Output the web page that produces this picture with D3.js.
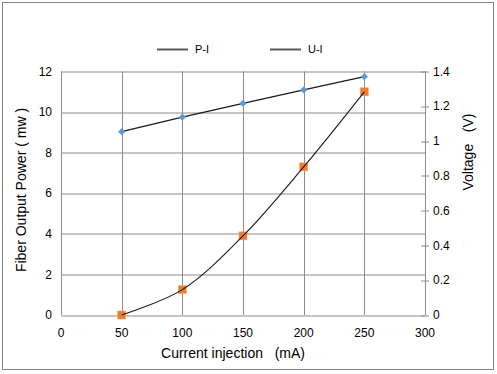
<!DOCTYPE html>
<html>
<head>
<meta charset="utf-8">
<script src="https://cdn.jsdelivr.net/npm/d3@7"></script>
<style>
  body { margin: 0; background: #fff; }
  text { font-family: "Liberation Sans", Arial, sans-serif; fill: #000; white-space: pre; }
</style>
</head>
<body>
<div id="chart"></div>
<script>
// current injection (mA)
const current = [50, 100, 150, 200, 250];
// P-I : fiber output power (mW), left axis
const power = [0, 1.25, 3.9, 7.3, 11.0];
// U-I : voltage (V), right axis
const voltage = [1.054, 1.138, 1.217, 1.294, 1.370];

const xTicks = [0, 50, 100, 150, 200, 250, 300];
const yTicks = [0, 2, 4, 6, 8, 10, 12];
const y2Ticks = [0, 0.2, 0.4, 0.6, 0.8, 1, 1.2, 1.4];
const seriesNames = ["P-I", "U-I"];

const W = 497, H = 374;
const margin = {top: 71.5, right: 72, bottom: 59, left: 61},
    width = W - margin.left - margin.right,
    height = H - margin.top - margin.bottom;

const svg = d3.select("#chart")
  .append("svg")
    .attr("width", W)
    .attr("height", H);

// outer frame
svg.append("rect")
  .attr("x", 2.5).attr("y", 2.5)
  .attr("width", 491).attr("height", 367)
  .attr("fill", "white")
  .attr("stroke", "#868686");

const g = svg.append("g")
  .attr("transform", `translate(${margin.left}, ${margin.top})`);

const x = d3.scaleLinear().domain([0, 300]).range([0, width]);
const y = d3.scaleLinear().domain([0, 12]).range([height, 0]);
const y2 = d3.scaleLinear().domain([0, 1.4]).range([height, 0]);

const grid = "#8c8c8c";

// gridlines
g.selectAll(".hgrid").data(yTicks).enter().append("line")
  .attr("x1", 0).attr("x2", width)
  .attr("y1", d => Math.round(y(d)) + 0.5).attr("y2", d => Math.round(y(d)) + 0.5)
  .attr("stroke", grid);
g.selectAll(".vgrid").data(xTicks).enter().append("line")
  .attr("y1", 0).attr("y2", height)
  .attr("x1", d => Math.round(x(d)) + 0.5).attr("x2", d => Math.round(x(d)) + 0.5)
  .attr("stroke", grid);

// left axis labels
g.selectAll(".ylab").data(yTicks).enter().append("text")
  .attr("x", -9).attr("y", d => y(d))
  .attr("dy", "0.35em")
  .attr("text-anchor", "end")
  .style("font-size", "12px")
  .text(d => d);

// right axis with cross ticks
g.selectAll(".y2tick").data(y2Ticks).enter().append("line")
  .attr("x1", width - 4).attr("x2", width + 4)
  .attr("y1", d => Math.round(y2(d)) + 0.5).attr("y2", d => Math.round(y2(d)) + 0.5)
  .attr("stroke", grid);
g.selectAll(".y2lab").data(y2Ticks).enter().append("text")
  .attr("x", width + 8).attr("y", d => y2(d))
  .attr("dy", "0.35em")
  .style("font-size", "12px")
  .text(d => d);

// x labels
g.selectAll(".xlab").data(xTicks).enter().append("text")
  .attr("x", d => x(d)).attr("y", height + 22)
  .attr("text-anchor", "middle")
  .style("font-size", "12px")
  .text(d => d);

// axis titles
svg.append("text")
  .attr("x", 233).attr("y", 358)
  .attr("text-anchor", "middle")
  .style("font-size", "14px")
  .text("Current injection   (mA)");
svg.append("text")
  .attr("transform", "translate(26, 190) rotate(-90)")
  .attr("text-anchor", "middle")
  .style("font-size", "14px")
  .text("Fiber Output Power ( mw )");
svg.append("text")
  .attr("transform", "translate(473, 152) rotate(-90)")
  .attr("text-anchor", "middle")
  .style("font-size", "14px")
  .text("Voltage   (V)");

const pi = current.map((c, i) => [c, power[i]]);
const ui = current.map((c, i) => [c, voltage[i]]);

// P-I markers, then its smoothed line
g.selectAll(".square").data(pi).enter().append("rect")
  .attr("x", d => x(d[0]) - 4).attr("y", d => y(d[1]) - 4)
  .attr("width", 8).attr("height", 8)
  .attr("fill", "#ed7d31")
  .attr("stroke", "#f4a46a")
  .attr("stroke-width", 0.6);

g.append("path")
  .datum(pi)
  .attr("fill", "none")
  .attr("stroke", "#1a1a1a")
  .attr("stroke-width", 1.1)
  .attr("d", d3.line().curve(d3.curveCatmullRom.alpha(0.5)).x(d => x(d[0])).y(d => y(d[1])));

// U-I line and diamonds
g.append("path")
  .datum(ui)
  .attr("fill", "none")
  .attr("stroke", "#1a1a1a")
  .attr("stroke-width", 1.3)
  .attr("d", d3.line().x(d => x(d[0])).y(d => y2(d[1])));

g.selectAll(".diamond").data(ui).enter().append("path")
  .attr("d", d3.symbol(d3.symbolSquare, 26))
  .attr("transform", d => `translate(${x(d[0])}, ${y2(d[1])}) rotate(45)`)
  .attr("fill", "#5b9bd5");

// legend
const legend = svg.append("g");
seriesNames.forEach((name, i) => {
  const lx = 157 + i * 113;
  legend.append("line")
    .attr("x1", lx).attr("x2", lx + 31)
    .attr("y1", 49.5).attr("y2", 49.5)
    .attr("stroke", "#595959")
    .attr("stroke-width", 2);
  legend.append("text")
    .attr("x", lx + 38).attr("y", 49)
    .attr("dy", "0.35em")
    .style("font-size", "11px")
    .text(name);
});
</script>
</body>
</html>
